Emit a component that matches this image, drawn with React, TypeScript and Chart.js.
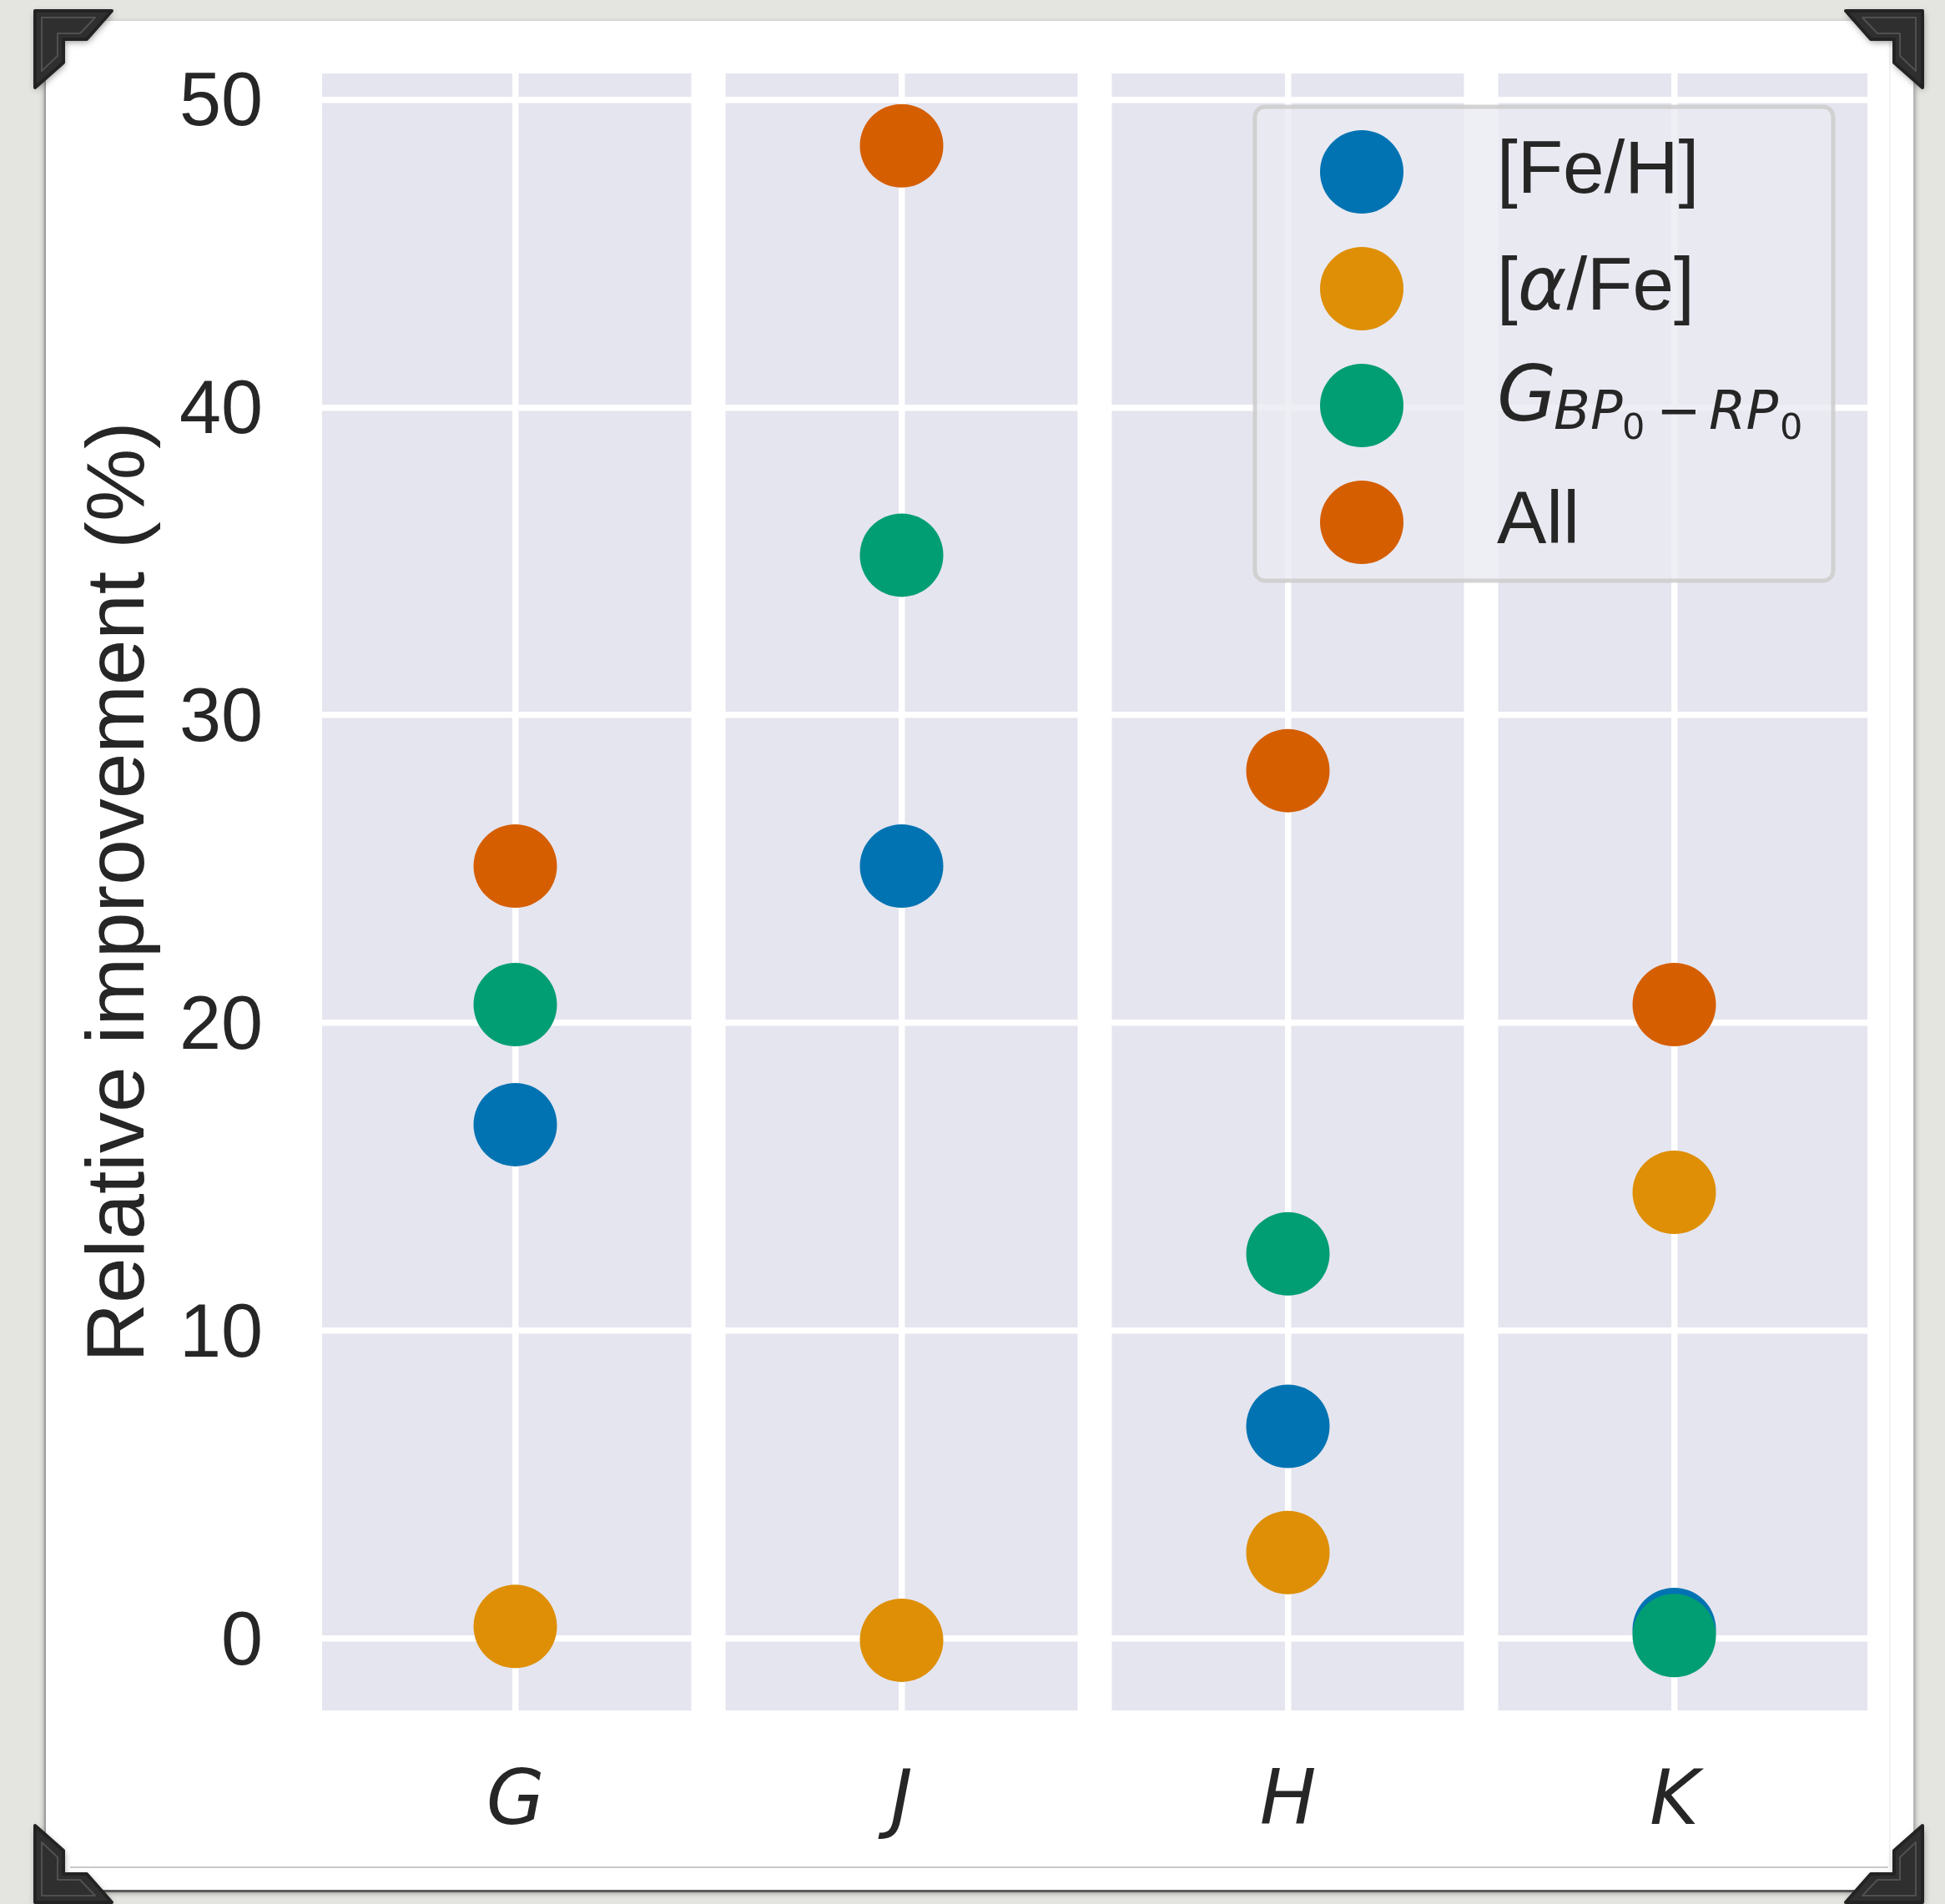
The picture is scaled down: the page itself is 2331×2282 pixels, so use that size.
import React, { useEffect, useRef } from 'react';
import { Chart, registerables } from 'chart.js';

Chart.register(...registerables);

// Photometric bands (one panel each)
const bands = ['G', 'J', 'H', 'K'];

// Relative improvement (%) per band for each added parameter
const feH = [16.7, 25.1, 6.9, 0.3];
const alphaFe = [0.4, -0.05, 2.8, 14.5];
const colourIndex = [20.6, 35.2, 12.5, 0.1];
const allParams = [25.1, 48.5, 28.2, 20.6];

const seriesLabels = ['[Fe/H]', '[α/Fe]', 'G_BP₀−RP₀', 'All'];
const seriesColours = ['#0173B2', '#DE8F05', '#029E73', '#D55E00'];

const yMin = -2.33;
const yMax = 50.85;
const yStep = 10;

const W = 2331;
const H = 2282;
const INK = '#262626';
const PANEL = '#e5e5ef';
const SANS = 'Liberation Sans';
const MATH = 'DejaVu Sans';

type Run = { t: string; f: string; x?: number; dy: number };

// Legend label runs (mathtext-like layout for the colour index)
const legendRuns: Run[][] = [
  [{ t: '[Fe/H]', f: `89px "${SANS}"`, dy: 25 }],
  [
    { t: '[', f: `89px "${SANS}"`, dy: 25 },
    { t: 'α', f: `italic 89px "${MATH}"`, dy: 25 },
    { t: '/Fe]', f: `89px "${SANS}"`, dy: 25 },
  ],
  [
    { t: 'G', f: `italic 92px "${MATH}"`, x: 0, dy: 18 },
    { t: 'BP', f: `italic 64px "${MATH}"`, x: 68, dy: 28 },
    { t: '0', f: `43px "${MATH}"`, x: 150, dy: 40 },
    { t: '−', f: `64px "${MATH}"`, x: 191, dy: 28 },
    { t: 'RP', f: `italic 64px "${MATH}"`, x: 254, dy: 28 },
    { t: '0', f: `43px "${MATH}"`, x: 339, dy: 40 },
  ],
  [{ t: 'All', f: `89px "${SANS}"`, dy: 25 }],
];

function drawCorner(ctx: CanvasRenderingContext2D, ox: number, oy: number, sx: number, sy: number) {
  const L = 92;
  const w = 34;
  const d = 30;
  const outer = [[0, 0], [L, 0], [L - d, w], [w, w], [w, L - d], [0, L]];
  const inner = [[8, 8], [L - 20, 8], [L - d - 8, w - 7], [w - 7, w - 7], [w - 7, L - d - 8], [8, L - 20]];
  ctx.save();
  ctx.translate(ox, oy);
  ctx.scale(sx, sy);
  ctx.shadowColor = 'rgba(0,0,0,0.45)';
  ctx.shadowBlur = 8;
  ctx.shadowOffsetX = 1;
  ctx.shadowOffsetY = 3;
  ctx.beginPath();
  outer.forEach(([px, py], i) => (i ? ctx.lineTo(px, py) : ctx.moveTo(px, py)));
  ctx.closePath();
  ctx.lineJoin = 'round';
  ctx.fillStyle = '#2f2f2f';
  ctx.fill();
  ctx.shadowColor = 'transparent';
  ctx.lineWidth = 4;
  ctx.strokeStyle = '#232323';
  ctx.stroke();
  ctx.beginPath();
  inner.forEach(([px, py], i) => (i ? ctx.lineTo(px, py) : ctx.moveTo(px, py)));
  ctx.closePath();
  ctx.lineWidth = 2;
  ctx.strokeStyle = 'rgba(255,255,255,0.16)';
  ctx.stroke();
  ctx.restore();
}

const framePlugin = {
  id: 'frame',
  beforeDraw(chart: any) {
    const ctx: CanvasRenderingContext2D = chart.ctx;
    const ca = chart.chartArea;
    const xs = chart.scales.x;
    ctx.save();
    ctx.fillStyle = '#e4e5e0';
    ctx.fillRect(0, 0, W, H);

    // white card with soft shadow
    ctx.shadowColor = 'rgba(0,0,0,0.35)';
    ctx.shadowBlur = 6;
    ctx.shadowOffsetY = 2;
    ctx.fillStyle = '#ffffff';
    ctx.fillRect(53, 25, 2242, 2242);
    ctx.shadowColor = 'transparent';
    ctx.fillStyle = '#9d9d9d';
    ctx.fillRect(53, 25, 2, 2242);
    ctx.fillStyle = '#b5b5b5';
    ctx.fillRect(2293, 25, 2, 2242);
    ctx.fillStyle = '#5a5a5a';
    ctx.fillRect(53, 2265, 2242, 3);
    ctx.fillStyle = '#c8c8c8';
    ctx.fillRect(84, 2237, 2179, 2);
    ctx.fillStyle = '#f0f0f0';
    ctx.fillRect(2264, 25, 1.5, 2213);

    // one shaded panel per band
    const band = ca.width / bands.length;
    const gap = 41;
    bands.forEach((_, i) => {
      const c = xs.getPixelForValue(i);
      let l = c - band / 2;
      let r = c + band / 2;
      if (i > 0) l += gap / 2;
      if (i < bands.length - 1) r -= gap / 2;
      ctx.fillStyle = PANEL;
      ctx.fillRect(l, ca.top, r - l, ca.height);
    });
    ctx.restore();
  },
  afterDraw(chart: any) {
    const ctx: CanvasRenderingContext2D = chart.ctx;
    const ca = chart.chartArea;
    const lw = 693;
    const lh = 568;
    const x0 = ca.right - 41 - lw;
    const y0 = ca.top + 40;
    ctx.save();
    ctx.beginPath();
    (ctx as any).roundRect(x0, y0, lw, lh, 12);
    ctx.fillStyle = 'rgba(234,234,242,0.8)';
    ctx.fill();
    ctx.lineWidth = 5;
    ctx.strokeStyle = 'rgba(204,204,204,0.85)';
    ctx.stroke();

    chart.data.datasets.forEach((ds: any, i: number) => {
      const cy = y0 + 78 + i * 140;
      ctx.beginPath();
      ctx.arc(x0 + 128, cy, 50, 0, Math.PI * 2);
      ctx.fillStyle = ds.backgroundColor;
      ctx.fill();
      const tx = x0 + 290;
      let cursor = tx;
      ctx.fillStyle = INK;
      ctx.textBaseline = 'alphabetic';
      ctx.textAlign = 'left';
      legendRuns[i].forEach((run) => {
        ctx.font = run.f;
        const px = run.x !== undefined ? tx + run.x : cursor;
        ctx.fillText(run.t, px, cy + run.dy);
        cursor = px + ctx.measureText(run.t).width;
      });
    });
    ctx.restore();

    drawCorner(ctx, 42, 13, 1, 1);
    drawCorner(ctx, 2304, 13, -1, 1);
    drawCorner(ctx, 42, 2280, 1, -1);
    drawCorner(ctx, 2304, 2280, -1, -1);
  },
};

// Keep the plot area fixed: no extra room for overhanging tick labels
function fixBox(s: any, size: { width?: number; height?: number }) {
  if (size.width !== undefined) s.width = size.width;
  if (size.height !== undefined) s.height = size.height;
  s.paddingTop = 0;
  s.paddingBottom = 0;
  s.paddingLeft = 0;
  s.paddingRight = 0;
}

export default function App() {
  const canvasRef = useRef<HTMLCanvasElement | null>(null);

  useEffect(() => {
    if (!canvasRef.current) return;
    const series = [feH, alphaFe, colourIndex, allParams];
    const chart = new Chart(canvasRef.current, {
      type: 'line',
      data: {
        labels: bands,
        datasets: series.map((values, i) => ({
          label: seriesLabels[i],
          data: values,
          showLine: false,
          backgroundColor: seriesColours[i],
          borderColor: seriesColours[i],
          pointBackgroundColor: seriesColours[i],
          pointBorderWidth: 0,
          pointRadius: 50,
          pointHoverRadius: 50,
          order: series.length - i,
          clip: false,
        })),
      },
      options: {
        responsive: false,
        animation: false,
        events: [],
        layout: { padding: { left: 0, top: 88, right: 93, bottom: 0 } },
        plugins: { legend: { display: false }, tooltip: { enabled: false } },
        scales: {
          x: {
            type: 'category',
            offset: true,
            grid: { offset: false, color: '#ffffff', lineWidth: 7.5, drawTicks: false },
            border: { display: false },
            ticks: {
              color: INK,
              padding: 59,
              font: { family: MATH, size: 90, style: 'italic' },
            },
            afterFit: (s: any) => fixBox(s, { height: 232 }),
          },
          y: {
            min: yMin,
            max: yMax,
            grid: { color: '#ffffff', lineWidth: 7.5, drawTicks: false },
            border: { display: false },
            ticks: {
              stepSize: yStep,
              includeBounds: false,
              color: INK,
              padding: 71,
              labelOffset: 6,
              font: { family: SANS, size: 90 },
            },
            title: {
              display: true,
              text: 'Relative improvement (%)',
              color: INK,
              font: { family: SANS, size: 98 },
              padding: { top: 86, bottom: 0 },
            },
            afterFit: (s: any) => fixBox(s, { width: 386 }),
          },
        },
      },
      plugins: [framePlugin],
    } as any);
    return () => chart.destroy();
  }, []);

  return (
    <div style={{ position: 'absolute', left: 0, top: 0, width: W, height: H }}>
      <canvas ref={canvasRef} width={W} height={H} style={{ display: 'block' }} />
    </div>
  );
}
